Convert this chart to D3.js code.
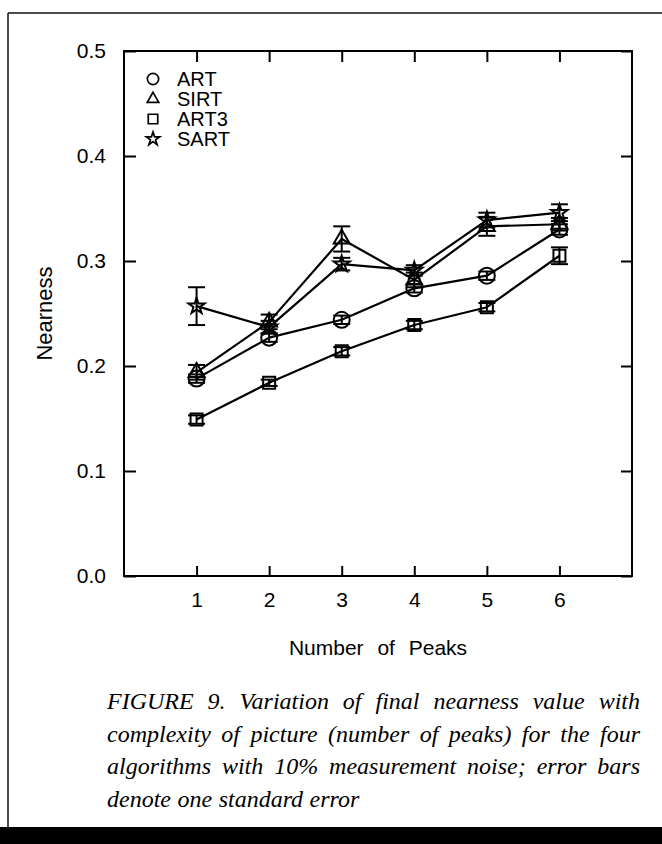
<!DOCTYPE html>
<html>
<head>
<meta charset="utf-8">
<script src="https://cdn.jsdelivr.net/npm/d3@7"></script>
<style>
  html, body { margin: 0; padding: 0; background: #fff; }
  svg { display: block; }
</style>
</head>
<body>
<svg id="fig" width="662" height="844"></svg>
<script>
// Number of peaks in the test picture
const peaks = [1, 2, 3, 4, 5, 6];

// Final nearness (mean) and one standard error, per algorithm
const artMean  = [0.188, 0.227, 0.244, 0.274, 0.286, 0.330];
const artErr   = [0.004, 0.004, 0.004, 0.004, 0.004, 0.005];
const sirtMean = [0.194, 0.242, 0.321, 0.282, 0.333, 0.335];
const sirtErr  = [0.007, 0.007, 0.012, 0.007, 0.009, 0.006];
const art3Mean = [0.149, 0.184, 0.214, 0.239, 0.256, 0.305];
const art3Err  = [0.004, 0.003, 0.004, 0.004, 0.004, 0.008];
const sartMean = [0.257, 0.237, 0.297, 0.291, 0.339, 0.346];
const sartErr  = [0.018, 0.006, 0.006, 0.005, 0.007, 0.008];

const seriesNames = ["ART", "SIRT", "ART3", "SART"];
const yTicks = [0.0, 0.1, 0.2, 0.3, 0.4, 0.5];

const captionLines = [
  "FIGURE 9. Variation of final nearness value with",
  "complexity of picture (number of peaks) for the four",
  "algorithms with 10% measurement noise; error bars",
  "denote one standard error"
];

const series = [
  { name: seriesNames[0], mean: artMean,  err: artErr,  type: d3.symbolCircle,   size: 200, legendSize: 100 },
  { name: seriesNames[1], mean: sirtMean, err: sirtErr, type: d3.symbolTriangle, size: 110, legendSize: 58 },
  { name: seriesNames[2], mean: art3Mean, err: art3Err, type: d3.symbolSquare,   size: 144, legendSize: 90 },
  { name: seriesNames[3], mean: sartMean, err: sartErr, type: d3.symbolStar,     size: 80,  legendSize: 55 }
];

const svg = d3.select("#fig");
const W = 662, H = 844;

// page frame and bottom rule
svg.append("line").attr("x1", 8).attr("x2", 8).attr("y1", 13).attr("y2", 828)
  .attr("stroke", "#111").attr("stroke-width", 1.5);
svg.append("line").attr("x1", 8).attr("x2", W).attr("y1", 13).attr("y2", 13)
  .attr("stroke", "#111").attr("stroke-width", 1.5);
svg.append("rect").attr("x", 0).attr("y", 827).attr("width", W).attr("height", H - 827)
  .attr("fill", "#000");

// plot area
const plot = { left: 124, right: 632, top: 51, bottom: 576 };
const x = d3.scaleLinear().domain([0, 7]).range([plot.left, plot.right]);
const y = d3.scaleLinear().domain([0, 0.5]).range([plot.bottom, plot.top]);

const font = "'Liberation Sans', Arial, Helvetica, sans-serif";

function styleAxis(g) {
  g.select(".domain").remove();
  g.selectAll(".tick line").attr("stroke", "#000").attr("stroke-width", 2);
  g.selectAll("text").attr("fill", "#000").style("font-family", font).style("font-size", "21px");
}

svg.append("g").attr("transform", `translate(${plot.left},0)`)
  .call(d3.axisLeft(y).tickValues(yTicks).tickSize(-12).tickPadding(18).tickFormat(d3.format(".1f")))
  .call(styleAxis);
svg.append("g").attr("transform", `translate(${plot.right},0)`)
  .call(d3.axisRight(y).tickValues(yTicks).tickSize(-11).tickFormat(""))
  .call(styleAxis);
svg.append("g").attr("transform", `translate(0,${plot.bottom})`)
  .call(d3.axisBottom(x).tickValues(peaks).tickSize(-10).tickPadding(16).tickFormat(d3.format("d")))
  .call(styleAxis);
svg.append("g").attr("transform", `translate(0,${plot.top})`)
  .call(d3.axisTop(x).tickValues(peaks).tickSize(-11).tickFormat(""))
  .call(styleAxis);

svg.append("rect")
  .attr("x", plot.left).attr("y", plot.top)
  .attr("width", plot.right - plot.left).attr("height", plot.bottom - plot.top)
  .attr("fill", "none").attr("stroke", "#000").attr("stroke-width", 2);

// axis titles
svg.append("text")
  .attr("x", (plot.left + plot.right) / 2).attr("y", 655)
  .attr("text-anchor", "middle")
  .style("font-family", font).style("font-size", "21px").style("word-spacing", "8px")
  .text("Number of Peaks");
svg.append("text")
  .attr("transform", `translate(52,${(plot.top + plot.bottom) / 2}) rotate(-90)`)
  .attr("text-anchor", "middle")
  .style("font-family", font).style("font-size", "22px")
  .text("Nearness");

// series: lines, error bars, markers
const line = d3.line().x((d, i) => x(peaks[i])).y(d => y(d));
const capHalf = 8.5;
const gData = svg.append("g");

series.forEach(s => {
  gData.append("path").datum(s.mean)
    .attr("d", line).attr("fill", "none")
    .attr("stroke", "#000").attr("stroke-width", 2.2).attr("stroke-linejoin", "round");

  const eb = gData.append("g").selectAll("g").data(s.mean).join("g");
  eb.append("line")
    .attr("x1", (d, i) => x(peaks[i])).attr("x2", (d, i) => x(peaks[i]))
    .attr("y1", (d, i) => y(d - s.err[i])).attr("y2", (d, i) => y(d + s.err[i]))
    .attr("stroke", "#000").attr("stroke-width", 2);
  eb.append("line")
    .attr("x1", (d, i) => x(peaks[i]) - capHalf).attr("x2", (d, i) => x(peaks[i]) + capHalf)
    .attr("y1", (d, i) => y(d + s.err[i])).attr("y2", (d, i) => y(d + s.err[i]))
    .attr("stroke", "#000").attr("stroke-width", 2);
  eb.append("line")
    .attr("x1", (d, i) => x(peaks[i]) - capHalf).attr("x2", (d, i) => x(peaks[i]) + capHalf)
    .attr("y1", (d, i) => y(d - s.err[i])).attr("y2", (d, i) => y(d - s.err[i]))
    .attr("stroke", "#000").attr("stroke-width", 2);

  gData.append("g").selectAll("path").data(s.mean).join("path")
    .attr("transform", (d, i) => `translate(${x(peaks[i])},${y(d)})`)
    .attr("d", d3.symbol().type(s.type).size(s.size))
    .attr("fill", "none").attr("stroke", "#000").attr("stroke-width", 2);
});

// legend
const legend = svg.append("g").attr("transform", "translate(153,79)");
series.forEach((s, i) => {
  const row = legend.append("g").attr("transform", `translate(0,${i * 20})`);
  row.append("path")
    .attr("d", d3.symbol().type(s.type).size(s.legendSize))
    .attr("fill", "none").attr("stroke", "#000").attr("stroke-width", 1.7);
  row.append("text")
    .attr("x", 24).attr("dy", "0.36em")
    .style("font-family", font).style("font-size", "20px")
    .text(s.name);
});

// caption, justified between the margins (last line left-aligned)
const capLeft = 107, capRight = 640, capTop = 709, capStep = 32.5;
const capFont = "'Liberation Serif', 'Times New Roman', serif";
captionLines.forEach((ln, li) => {
  const words = ln.split(" ");
  const yy = capTop + li * capStep;
  const g = svg.append("g");
  const nodes = words.map(w => g.append("text")
    .attr("y", yy)
    .style("font-family", capFont).style("font-style", "italic").style("font-size", "24px")
    .text(w));
  const widths = nodes.map(n => n.node().getComputedTextLength());
  const total = d3.sum(widths);
  const last = li === captionLines.length - 1;
  const gap = last ? 6.5 : (capRight - capLeft - total) / (words.length - 1);
  let cx = capLeft;
  nodes.forEach((n, k) => { n.attr("x", cx); cx += widths[k] + gap; });
});
</script>
</body>
</html>
